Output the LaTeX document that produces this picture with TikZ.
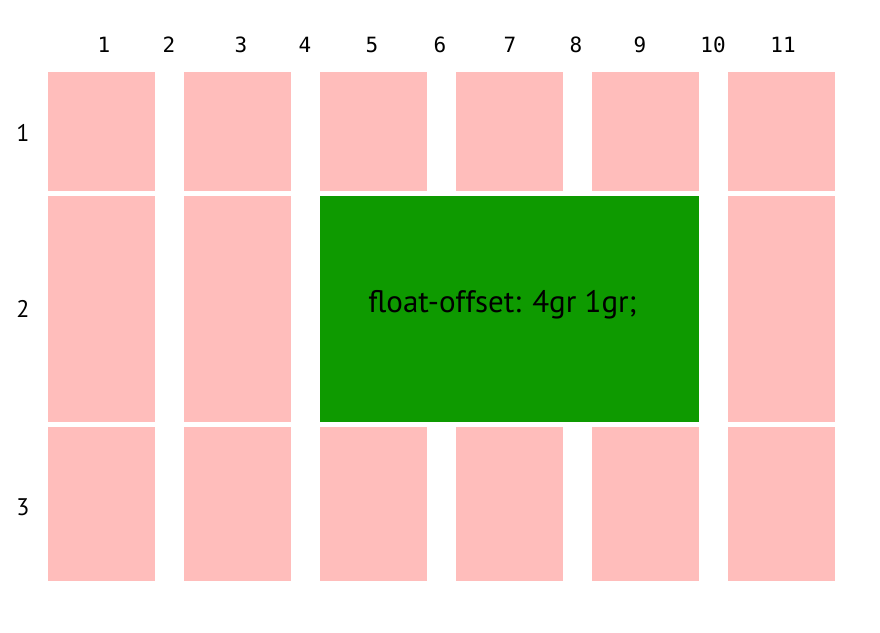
\documentclass[tikz,border=0pt]{standalone}
\usepackage{fontspec}
\setmainfont{PT Sans}
\newfontfamily\monof{DejaVu Sans Mono}
\definecolor{cellpink}{HTML}{FFBDBB}
\definecolor{floatgreen}{HTML}{0E9A00}
\tikzset{
  cell/.style={fill=cellpink, draw=none},
  floatbox/.style={fill=floatgreen, draw=none},
  collabel/.style={font=\monof\fontsize{21}{21}\selectfont, anchor=center, inner sep=0pt},
  rowlabel/.style={font=\fontsize{24}{24}\selectfont, anchor=center, inner sep=0pt},
}
\begin{document}
\begin{tikzpicture}[x=1pt,y=-1pt]
\useasboundingbox (0,0) rectangle (880,632);
% column labels
\foreach \n/\xx in {1/104,2/169,3/241,4/305,5/372,6/440,7/510,8/576,9/640,10/713,11/783}{
  \node[collabel] (c\n) at (\xx,45) {\n};
}
% row labels
\node[rowlabel] (r1) at (23,133) {1};
\node[rowlabel] (r2) at (23,309) {2};
\node[rowlabel] (r3) at (23,507) {3};
% cells
\foreach \i/\xx in {1/48,3/184,5/320,7/456,9/592,11/728}{
  \fill[cell] (\xx,72) rectangle ++(107,119);
  \fill[cell] (\xx,427) rectangle ++(107,154);
}
\foreach \i/\xx in {1/48,3/184,11/728}{
  \fill[cell] (\xx,196) rectangle ++(107,226);
}
\fill[floatbox] (320,196) rectangle (699,422);
\node[font=\fontsize{31}{31}\selectfont, inner sep=0pt] (ftext) at (502.5,305) {float-offset: 4gr 1gr;};
\end{tikzpicture}
\end{document}
